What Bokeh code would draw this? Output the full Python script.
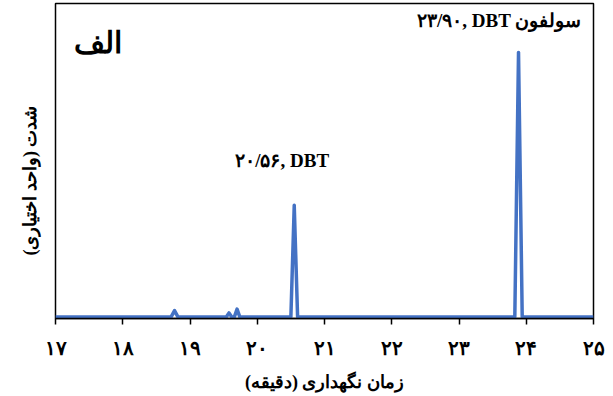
from bokeh.plotting import figure
from bokeh.models import ColumnDataSource, FixedTicker, Label, Range1d, Title
from bokeh.embed import file_html
from bokeh.resources import INLINE

# Chromatogram data (retention time in minutes, intensity in arbitrary units)
times = [17.0, 18.72, 18.77, 18.82, 19.54, 19.58, 19.62, 19.66, 19.70, 19.74,
         20.50, 20.55, 20.60, 23.83, 23.885, 23.94, 25.0]
intensity = [0, 0, 2.0, 0, 0, 1.3, 0, 0, 2.5, 0,
             0, 35.6, 0, 0, 84.4, 0, 0]

x_ticks = [17, 18, 19, 20, 21, 22, 23, 24, 25]
x_tick_labels = ["۱۷", "۱۸", "۱۹", "۲۰", "۲۱", "۲۲", "۲۳", "۲۴", "۲۵"]

peak_texts = ["۲۰/۵۶, DBT", "۲۳/۹۰, DBT سولفون"]
peak_text_x = [20.37, 23.60]
peak_text_y = [50.0, 94.5]

panel_label = "الف"
x_title = "زمان نگهداری (دقیقه)\u200f"
y_title = "شدت (واحد اختیاری)\u200f"

FONT = "Liberation Serif"

p = figure(width=613, height=396, output_backend="svg", toolbar_location=None,
           x_range=Range1d(17, 25), y_range=Range1d(-0.5, 100),
           min_border_left=55, min_border_right=20, min_border_top=3, min_border_bottom=78,
           styles={"margin": "0px"})

src = ColumnDataSource(dict(t=times, v=intensity))
p.line("t", "v", source=src, line_color="#4472C4", line_width=3.5, line_join="round")

p.grid.visible = False
p.outline_line_color = "black"
p.outline_line_width = 1.5
p.background_fill_color = "white"
p.border_fill_color = "white"

xa = p.xaxis[0]
xa.ticker = FixedTicker(ticks=x_ticks)
xa.major_label_overrides = {t: l for t, l in zip(x_ticks, x_tick_labels)}
xa.major_tick_in = 0
xa.major_tick_out = 6
xa.minor_tick_line_color = None
xa.axis_line_color = "black"
xa.axis_line_width = 1.5
xa.major_tick_line_color = "black"
xa.major_tick_line_width = 1.5
xa.major_label_text_font = FONT
xa.major_label_text_font_style = "bold"
xa.major_label_text_font_size = "20px"
xa.major_label_text_color = "black"
xa.major_label_standoff = 12
xa.axis_label = x_title
xa.axis_label_text_font = FONT
xa.axis_label_text_font_style = "bold"
xa.axis_label_text_font_size = "18px"
xa.axis_label_text_color = "black"
xa.axis_label_standoff = 10

p.yaxis.visible = False

# y-axis title on the left side
p.add_layout(Title(text=y_title, align="left", offset=63, standoff=32,
                   text_font=FONT, text_font_style="bold", text_font_size="18px",
                   text_color="black"), "left")

for txt, x, y in zip(peak_texts, peak_text_x, peak_text_y):
    p.add_layout(Label(x=x, y=y, text=txt, text_font=FONT, text_font_style="bold",
                       text_font_size="19px", text_align="center", text_baseline="middle",
                       text_color="black"))

p.add_layout(Label(x=17.63, y=87.4, text=panel_label, text_font=FONT, text_font_style="bold",
                   text_font_size="30px", text_align="center", text_baseline="middle",
                   text_color="black"))

open("out.html", "w").write(file_html(p, INLINE))
